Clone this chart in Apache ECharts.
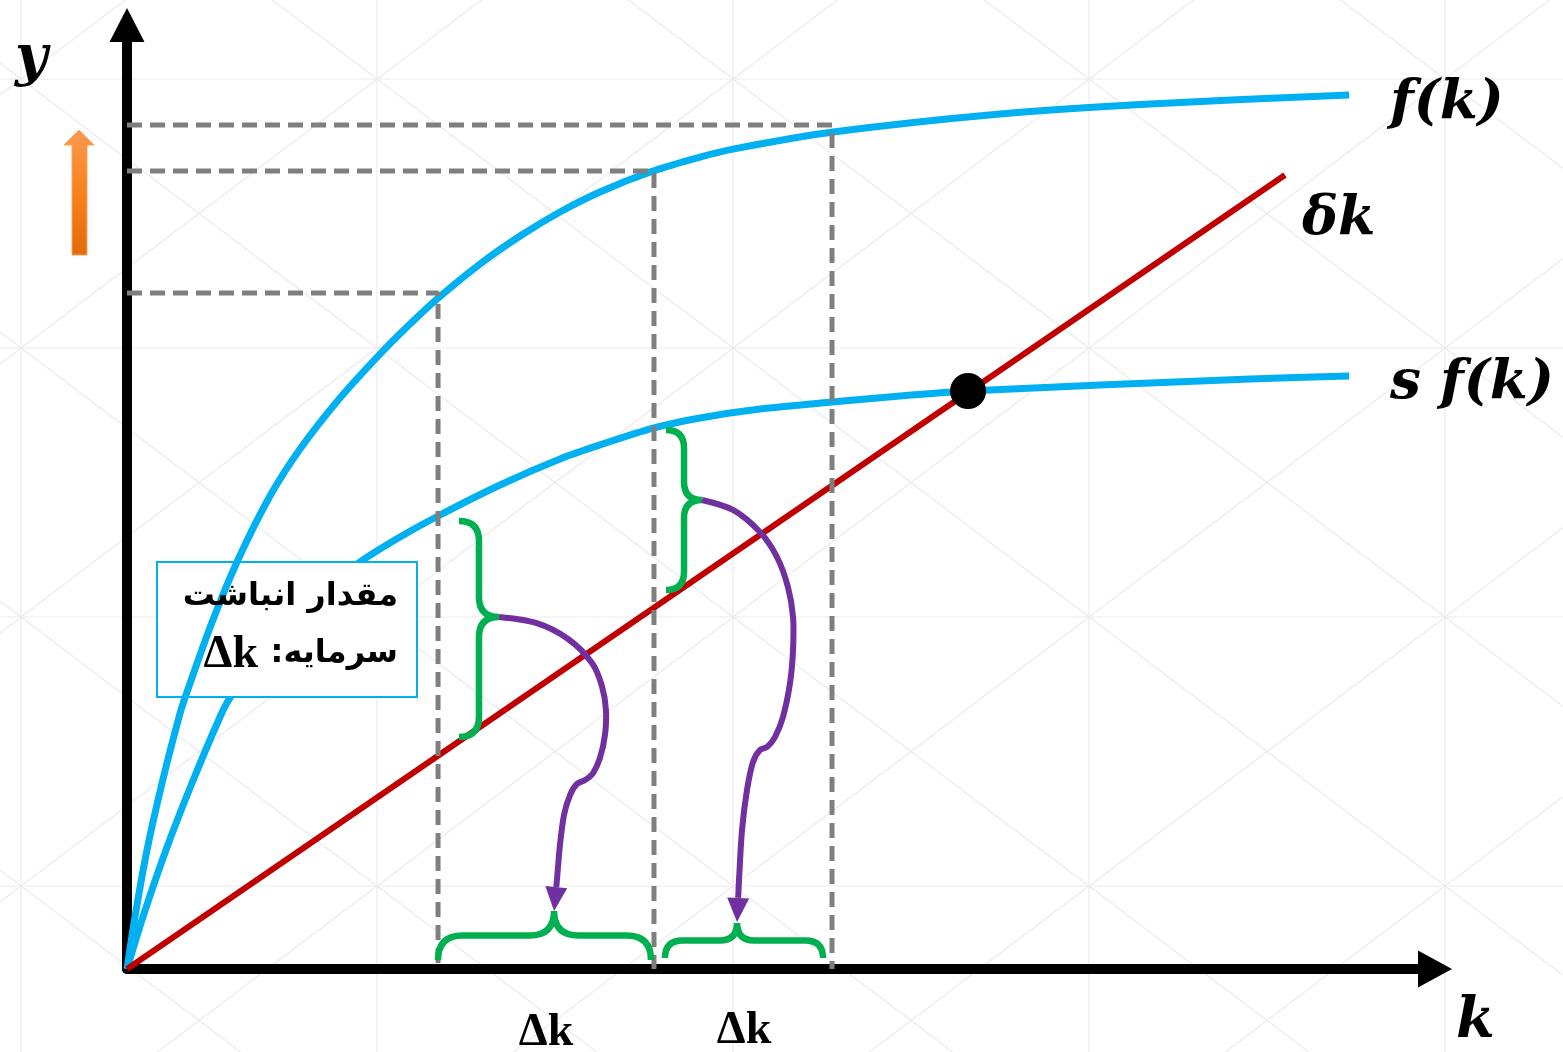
<!DOCTYPE html>
<html>
<head>
    <meta charset="utf-8"/>
    <title>Solow</title>
    <script src="https://cdn.jsdelivr.net/npm/echarts@6/dist/echarts.min.js"></script>
    <style>
        html, body { margin: 0; padding: 0; background: #fff; }
        #main { width: 1563px; height: 1052px; }
    </style>
</head>
<body>
<div id="main"></div>
<script type="text/javascript">
    // values, chart units: k 0..10, y 0..7
    let fK = [0, 0.061, 0.153, 0.268, 0.398, 0.443, 0.642, 0.841, 1.093, 1.323, 1.628, 1.934, 2.164, 2.378, 2.699, 3.005, 3.310, 3.616, 4.021, 4.381, 4.633, 5.398, 6.674, 7.821, 9.343];
    let fY = [0, 0.386, 0.882, 1.379, 1.869, 2.010, 2.551, 3.018, 3.507, 3.856, 4.234, 4.560, 4.783, 4.975, 5.228, 5.435, 5.613, 5.762, 5.917, 6.021, 6.080, 6.206, 6.340, 6.415, 6.481];

    let sfK = [0, 0.122, 0.298, 0.497, 0.711, 0.787, 1.093, 1.399, 1.781, 2.087, 2.378, 2.852, 3.310, 3.616, 4.029, 4.381, 4.839, 5.390, 5.910, 6.430, 7.439, 8.586, 9.343];
    let sfY = [0, 0.386, 0.882, 1.379, 1.869, 2.010, 2.440, 2.736, 3.018, 3.203, 3.359, 3.589, 3.782, 3.886, 4.012, 4.086, 4.152, 4.204, 4.249, 4.286, 4.330, 4.375, 4.397];

    // depreciation line δk
    let dkK = [0, 8.853];
    let dkY = [0, 5.888];

    // steady state point
    let steadyK = [6.430];
    let steadyY = [4.286];

    // dashed guides (k position, level on y)
    let guideK = [2.378, 4.029, 5.390];
    let guideY = [5.013, 5.917, 6.258];

    // vertical braces between s f(k) and δk
    let vBraceEdgeK = [2.538, 4.121];
    let vBraceTipK = [2.844, 4.396];
    let vBraceTopY = [3.322, 3.997];
    let vBraceBotY = [1.720, 2.810];
    let vBraceTipY = [2.610, 3.478];

    // horizontal braces on the k axis
    let hBraceLeftK = [2.378, 4.113];
    let hBraceRightK = [4.006, 5.321];
    let hBraceTipK = [3.265, 4.664];
    let hBraceEdgeY = [0.067, 0.082];
    let hBraceTipY = [0.430, 0.341];

    // purple arrows, from vertical brace tip to horizontal brace tip
    let arrow1K = [2.844, 3.127, 3.372, 3.555, 3.631, 3.662, 3.654, 3.616, 3.563, 3.502, 3.440, 3.387, 3.341, 3.310, 3.287, 3.265];
    let arrow1Y = [2.610, 2.566, 2.447, 2.269, 2.098, 1.920, 1.735, 1.565, 1.453, 1.401, 1.372, 1.290, 1.142, 0.919, 0.660, 0.430];
    let arrow2K = [4.396, 4.633, 4.839, 4.969, 5.053, 5.092, 5.092, 5.069, 5.015, 4.954, 4.893, 4.839, 4.786, 4.740, 4.702, 4.679, 4.664];
    let arrow2Y = [3.478, 3.404, 3.240, 3.055, 2.833, 2.610, 2.365, 2.121, 1.869, 1.720, 1.646, 1.624, 1.535, 1.327, 1.031, 0.660, 0.349];

    let zip = function (xs, ys) {
        return xs.map(function (x, i) { return [x, ys[i]]; });
    };

    let BLUE = '#00b0f0', RED = '#c00000', GREEN = '#00b050', PURPLE = '#7030a0', GRAY = '#7f7f7f';

    // faint background pattern (grid with diagonals)
    let bg = [];
    let cw = 356, ch = 269, x0 = 21 - cw, y0 = 79 - ch;
    let bgStyle = {stroke: '#ececec', lineWidth: 1.2};
    for (let x = x0; x < 1563 + cw; x += cw) {
        bg.push({type: 'line', z: -10, silent: true, shape: {x1: x, y1: 0, x2: x, y2: 1052}, style: bgStyle});
    }
    for (let y = y0; y < 1052 + ch; y += ch) {
        bg.push({type: 'line', z: -10, silent: true, shape: {x1: 0, y1: y, x2: 1563, y2: y}, style: bgStyle});
    }
    for (let x = x0; x < 1563; x += cw) {
        for (let y = y0; y < 1052; y += ch) {
            bg.push({type: 'line', z: -10, silent: true, shape: {x1: x, y1: y, x2: x + cw, y2: y + ch}, style: bgStyle});
            bg.push({type: 'line', z: -10, silent: true, shape: {x1: x + cw, y1: y, x2: x, y2: y + ch}, style: bgStyle});
        }
    }

    let mathFont = 'italic bold 55px "DejaVu Serif", serif';
    let persFont = 'bold 32px "DejaVu Sans", sans-serif';
    let deltaFont = 'bold 46px "Liberation Serif", serif';
    let txt = function (text, x, y, font, align) {
        return {type: 'text', z: 9, silent: true, style: {
            text: text, x: x, y: y, font: font, fill: '#000',
            align: align || 'left', textAlign: align || 'left',
            verticalAlign: 'middle', textVerticalAlign: 'middle'
        }};
    };
    let labels = [
        txt('y', 15, 60, 'italic bold 56px "DejaVu Serif", serif'),
        txt('k', 1456, 1022, 'italic bold 56px "DejaVu Serif", serif'),
        txt('f(k)', 1390, 104, mathFont),
        txt('δk', 1302, 220, 'italic bold 54px "DejaVu Serif", serif'),
        txt('s f(k)', 1390, 384, mathFont),
        txt('Δk', 546, 1033, deltaFont, 'center'),
        txt('Δk', 744, 1031, deltaFont, 'center'),
        // note box
        {type: 'rect', z: 3, silent: true, shape: {x: 157, y: 562, width: 260, height: 135}, style: {fill: '#fff', stroke: BLUE, lineWidth: 2}},
        txt('مقدار انباشت', 398, 597, persFont, 'right'),
        txt('سرمایه:\u200F', 398, 654, persFont, 'right'),
        txt('Δk', 258, 655, deltaFont, 'right'),
        // orange arrow beside y axis
        {type: 'polygon', z: 9, silent: true, shape: {points: [[72, 255], [72, 145], [64, 145], [79, 130], [94, 145], [87, 145], [87, 255]]},
            style: {
                fill: new echarts.graphic.LinearGradient(0, 0, 0, 1, [
                    {offset: 0, color: '#f99a4e'},
                    {offset: 0.5, color: '#f7821e'},
                    {offset: 1, color: '#e26b0a'}
                ]),
                stroke: '#f9a461', lineWidth: 1
            }}
    ];

    let renderVBrace = function (params, api) {
        let a = api.coord([api.value(0), api.value(2)]);
        let b = api.coord([api.value(1), api.value(3)]);
        let c = api.coord([api.value(1), api.value(4)]);
        let e = a[0], t = b[0], top = a[1], bot = b[1], ty = c[1];
        let s = (e + t) / 2, r = (t - e) / 2;
        let d = ['M', e, top, 'Q', s, top, s, top + r, 'L', s, ty - r, 'Q', s, ty, t, ty,
            'Q', s, ty, s, ty + r, 'L', s, bot - r, 'Q', s, bot, e, bot].join(' ');
        return {type: 'path', shape: {pathData: d}, style: {stroke: GREEN, lineWidth: 6.5, fill: 'none'}};
    };

    let renderHBrace = function (params, api) {
        let a = api.coord([api.value(0), api.value(3)]);
        let b = api.coord([api.value(1), api.value(3)]);
        let c = api.coord([api.value(2), api.value(4)]);
        let l = a[0], rt = b[0], ye = a[1], tx = c[0], yt = c[1];
        let m = (ye + yt) / 2, r = (ye - yt) / 2;
        let d = ['M', l, ye, 'Q', l, m, l + r, m, 'L', tx - r, m, 'Q', tx, m, tx, yt,
            'Q', tx, m, tx + r, m, 'L', rt - r, m, 'Q', rt, m, rt, ye].join(' ');
        return {type: 'path', shape: {pathData: d}, style: {stroke: GREEN, lineWidth: 6.5, fill: 'none'}};
    };

    let arrowPaths = [{k: arrow1K, y: arrow1Y}, {k: arrow2K, y: arrow2Y}];
    let renderArrow = function (params, api) {
        let path = arrowPaths[params.dataIndex];
        let pts = path.k.map(function (k, i) { return api.coord([k, path.y[i]]); });
        let tip = pts[pts.length - 1], prev = pts[pts.length - 2];
        let dx = tip[0] - prev[0], dy = tip[1] - prev[1];
        let len = Math.sqrt(dx * dx + dy * dy);
        let ux = dx / len, uy = dy / len;
        let headLen = 24, headHalf = 11;
        let base = [tip[0] - ux * headLen, tip[1] - uy * headLen];
        let body = pts.slice(0, -1).concat([base]);
        return {
            type: 'group',
            children: [
                {type: 'polyline', shape: {points: body, smooth: 0.3}, style: {stroke: PURPLE, lineWidth: 6, fill: 'none'}},
                {type: 'polygon', shape: {points: [tip, [base[0] - uy * headHalf, base[1] + ux * headHalf], [base[0] + uy * headHalf, base[1] - ux * headHalf]]}, style: {fill: PURPLE}}
            ]
        };
    };

    let guideSeries = guideK.map(function (k, i) {
        return {
            type: 'line', z: 5, silent: true, showSymbol: false,
            data: [[0, guideY[i]], [k, guideY[i]], [k, 0]],
            lineStyle: {color: GRAY, width: 5, type: [15, 8]}
        };
    });

    let chart = echarts.init(document.getElementById('main'));
    chart.setOption({
        animation: false,
        backgroundColor: '#fff',
        grid: {left: 127, top: 25, right: 128, bottom: 83},
        xAxis: {
            type: 'value', min: 0, max: 10,
            axisLine: {show: true, lineStyle: {color: '#000', width: 10}, symbol: ['none', 'triangle'], symbolSize: [37, 34]},
            axisTick: {show: false}, axisLabel: {show: false}, splitLine: {show: false}
        },
        yAxis: {
            type: 'value', min: 0, max: 7,
            axisLine: {show: true, lineStyle: {color: '#000', width: 10}, symbol: ['none', 'triangle'], symbolSize: [35, 34]},
            axisTick: {show: false}, axisLabel: {show: false}, splitLine: {show: false}
        },
        graphic: {elements: bg.concat(labels)},
        series: [
            {
                name: 's f(k)', type: 'line', z: 2, silent: true, showSymbol: false, smooth: 0.25,
                data: zip(sfK, sfY), lineStyle: {color: BLUE, width: 7}
            },
            {
                name: 'f(k)', type: 'line', z: 4, silent: true, showSymbol: false, smooth: 0.25,
                data: zip(fK, fY), lineStyle: {color: BLUE, width: 7}
            },
            {
                name: 'δk', type: 'line', z: 4, silent: true, showSymbol: false,
                data: zip(dkK, dkY), lineStyle: {color: RED, width: 6}
            }
        ].concat(guideSeries).concat([
            {
                type: 'custom', z: 6, silent: true, renderItem: renderVBrace,
                encode: {x: [0, 1], y: [2, 3, 4]},
                data: vBraceEdgeK.map(function (e, i) { return [e, vBraceTipK[i], vBraceTopY[i], vBraceBotY[i], vBraceTipY[i]]; })
            },
            {
                type: 'custom', z: 6, silent: true, renderItem: renderHBrace,
                encode: {x: [0, 1, 2], y: [3, 4]},
                data: hBraceLeftK.map(function (l, i) { return [l, hBraceRightK[i], hBraceTipK[i], hBraceEdgeY[i], hBraceTipY[i]]; })
            },
            {
                type: 'custom', z: 7, silent: true, renderItem: renderArrow,
                encode: {x: 0, y: 1},
                data: arrowPaths.map(function (p) { return [p.k[0], p.y[0]]; })
            },
            {
                type: 'scatter', z: 8, silent: true, symbolSize: 36,
                data: zip(steadyK, steadyY), itemStyle: {color: '#000', opacity: 1}
            }
        ])
    });
</script>
</body>
</html>
